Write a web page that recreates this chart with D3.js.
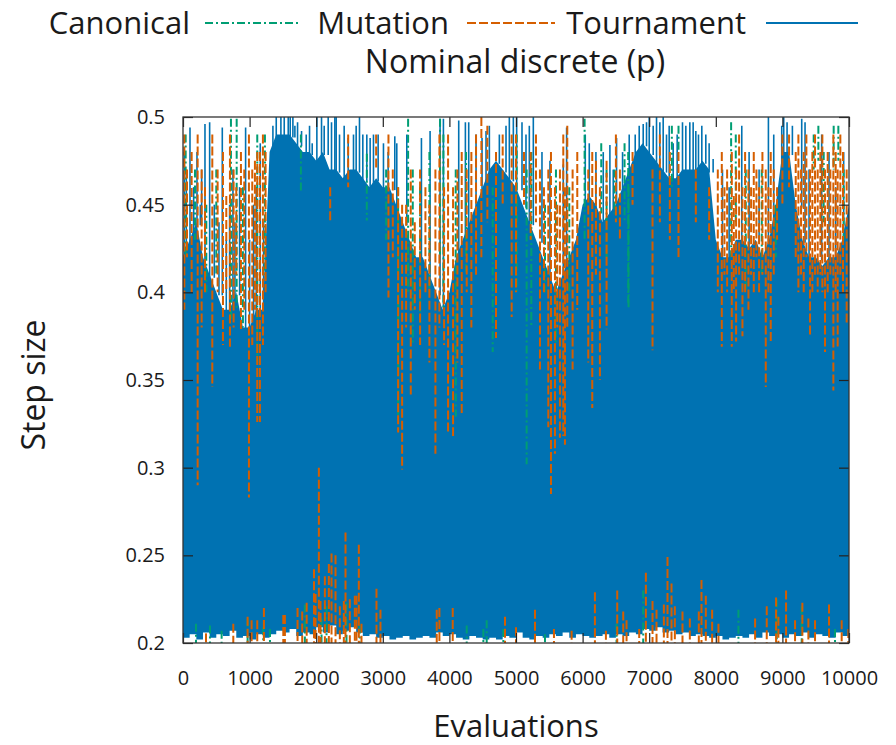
<!DOCTYPE html>
<html>
<head>
<meta charset="utf-8">
<script src="https://cdn.jsdelivr.net/npm/d3@7"></script>
<style>
body { margin: 0; background: #fff; }
text { font-family: "Open Sans", sans-serif; fill: #1a1a1a; }
</style>
</head>
<body>
<div id="chart"></div>
<script>
var width = 896,
    height = 745;

var xTicks = [0, 1000, 2000, 3000, 4000, 5000, 6000, 7000, 8000, 9000, 10000];
var yTicks = [0.2, 0.25, 0.3, 0.35, 0.4, 0.45, 0.5];
var yTickLabels = ['0.2', '0.25', '0.3', '0.35', '0.4', '0.45', '0.5'];

// Tournament: upper edge of the solid band, every 100 evaluations
var tournamentTop = [
    0.42, 0.43, 0.44, 0.42, 0.41, 0.40, 0.39, 0.39, 0.40, 0.38,
    0.38, 0.39, 0.39, 0.48, 0.49, 0.49, 0.49, 0.485, 0.48, 0.48,
    0.475, 0.48, 0.47, 0.47, 0.465, 0.47, 0.47, 0.465, 0.46, 0.465,
    0.46, 0.46, 0.45, 0.44, 0.43, 0.42, 0.42, 0.41, 0.40, 0.39,
    0.40, 0.42, 0.43, 0.44, 0.45, 0.46, 0.47, 0.475, 0.47, 0.465,
    0.46, 0.45, 0.44, 0.43, 0.42, 0.41, 0.40, 0.41, 0.42, 0.43,
    0.45, 0.455, 0.45, 0.44, 0.445, 0.45, 0.46, 0.47, 0.48, 0.485,
    0.48, 0.475, 0.47, 0.465, 0.465, 0.47, 0.47, 0.47, 0.475, 0.47,
    0.43, 0.42, 0.42, 0.43, 0.43, 0.425, 0.43, 0.42, 0.43, 0.45,
    0.48, 0.48, 0.45, 0.43, 0.42, 0.42, 0.415, 0.42, 0.42, 0.43,
    0.45
];
// Tournament: lower edge of the solid band, every 100 evaluations
var tournamentFloor = [
    0.203, 0.205, 0.202, 0.206, 0.203, 0.205, 0.204, 0.207, 0.203, 0.204,
    0.202, 0.205, 0.203, 0.205, 0.207, 0.206, 0.208, 0.204, 0.206, 0.205,
    0.209, 0.206, 0.210, 0.205, 0.207, 0.209, 0.206, 0.204, 0.205, 0.203,
    0.204, 0.202, 0.203, 0.204, 0.202, 0.203, 0.204, 0.203, 0.206, 0.204,
    0.205, 0.203, 0.202, 0.204, 0.203, 0.202, 0.203, 0.202, 0.204, 0.203,
    0.206, 0.203, 0.202, 0.204, 0.203, 0.205, 0.204, 0.206, 0.203, 0.205,
    0.204, 0.203, 0.204, 0.205, 0.203, 0.205, 0.204, 0.206, 0.205, 0.208,
    0.207, 0.209, 0.206, 0.207, 0.205, 0.206, 0.204, 0.205, 0.204, 0.203,
    0.204, 0.202, 0.203, 0.204, 0.203, 0.205, 0.203, 0.206, 0.204, 0.205,
    0.203, 0.205, 0.204, 0.206, 0.203, 0.205, 0.204, 0.203, 0.206, 0.204,
    0.203
];
// Tournament: single peaks above the band [evaluation, peak]
var tournamentPeaks = [
    [20, 0.48], [50, 0.47], [105, 0.494], [160, 0.46], [210, 0.48], [260, 0.45], [280, 0.47],
    [330, 0.496], [400, 0.497], [470, 0.45], [540, 0.44], [590, 0.494], [650, 0.43], [700, 0.45],
    [750, 0.47], [780, 0.44], [850, 0.46], [940, 0.494], [1000, 0.43], [1060, 0.45], [1100, 0.46],
    [1160, 0.485], [1210, 0.44], [1350, 0.495], [1400, 0.5], [1470, 0.5], [1520, 0.5], [1580, 0.5],
    [1610, 0.5], [1650, 0.5], [1680, 0.495], [1720, 0.497], [1780, 0.492], [1850, 0.49], [1900, 0.495],
    [1940, 0.485], [2010, 0.5], [2080, 0.5], [2120, 0.495], [2180, 0.5], [2230, 0.497], [2280, 0.5],
    [2300, 0.5], [2350, 0.49], [2420, 0.495], [2480, 0.488], [2560, 0.49], [2600, 0.495], [2650, 0.5],
    [2700, 0.49], [2760, 0.49], [2810, 0.488], [2860, 0.49], [2930, 0.49], [3010, 0.485], [3080, 0.48],
    [3180, 0.489], [3210, 0.485], [3360, 0.49], [3580, 0.488], [3710, 0.492], [3860, 0.499],
    [3910, 0.499], [4140, 0.498], [4240, 0.497], [4290, 0.497], [4400, 0.49], [4490, 0.488],
    [4550, 0.492], [4600, 0.495], [4660, 0.47], [4750, 0.49], [4850, 0.495], [4900, 0.5],
    [4960, 0.5], [5010, 0.5], [5090, 0.497], [5150, 0.49], [5200, 0.495], [5260, 0.5], [5390, 0.48],
    [5510, 0.475], [5710, 0.473], [5760, 0.494], [6040, 0.49], [6100, 0.485], [6200, 0.48],
    [6310, 0.48], [6410, 0.484], [6460, 0.47], [6510, 0.488], [6600, 0.48], [6700, 0.49],
    [6790, 0.49], [6850, 0.495], [6910, 0.496], [6960, 0.497], [7000, 0.5], [7060, 0.495],
    [7110, 0.5], [7160, 0.497], [7210, 0.5], [7260, 0.49], [7300, 0.495], [7360, 0.485],
    [7420, 0.49], [7500, 0.497], [7550, 0.495], [7610, 0.497], [7660, 0.497], [7700, 0.492],
    [7740, 0.49], [7790, 0.495], [7850, 0.49], [7900, 0.485], [7960, 0.476], [8100, 0.47],
    [8200, 0.46], [8390, 0.495], [8500, 0.48], [8650, 0.47], [8790, 0.5], [8870, 0.49],
    [8990, 0.495], [9020, 0.5], [9070, 0.497], [9150, 0.495], [9290, 0.499], [9340, 0.497],
    [9400, 0.47], [9590, 0.49], [9700, 0.48], [9800, 0.46], [9920, 0.48]
];

// Mutation: strokes in the upper part [evaluation, low, high]
var mutationUpper = [
    [20, 0.39, 0.49], [60, 0.42, 0.47], [130, 0.40, 0.48], [220, 0.29, 0.49], [280, 0.38, 0.47],
    [330, 0.40, 0.46], [440, 0.346, 0.49], [520, 0.40, 0.47], [600, 0.37, 0.48], [650, 0.40, 0.455],
    [705, 0.369, 0.49], [760, 0.38, 0.47], [800, 0.41, 0.46], [870, 0.379, 0.48], [920, 0.39, 0.47],
    [990, 0.283, 0.49], [1040, 0.37, 0.47], [1080, 0.39, 0.475], [1115, 0.326, 0.48], [1155, 0.326, 0.48],
    [1200, 0.37, 0.49], [1240, 0.40, 0.48], [2210, 0.44, 0.46], [2480, 0.46, 0.49], [2900, 0.47, 0.49],
    [3085, 0.397, 0.49], [3150, 0.42, 0.47], [3230, 0.32, 0.46], [3290, 0.299, 0.45], [3350, 0.38, 0.45],
    [3420, 0.341, 0.47], [3480, 0.39, 0.44], [3560, 0.37, 0.47], [3640, 0.40, 0.46], [3700, 0.36, 0.45],
    [3790, 0.308, 0.47], [3850, 0.38, 0.49], [3920, 0.37, 0.46], [3980, 0.32, 0.49], [4055, 0.318, 0.46],
    [4120, 0.36, 0.47], [4185, 0.33, 0.48], [4260, 0.40, 0.47], [4330, 0.38, 0.48], [4400, 0.41, 0.49],
    [4480, 0.42, 0.50], [4570, 0.44, 0.495], [4700, 0.374, 0.48], [4800, 0.45, 0.49], [4935, 0.386, 0.49],
    [5000, 0.40, 0.49], [5120, 0.45, 0.48], [5220, 0.43, 0.48], [5300, 0.44, 0.49], [5360, 0.356, 0.47],
    [5420, 0.40, 0.46], [5485, 0.323, 0.47], [5525, 0.285, 0.48], [5585, 0.308, 0.46], [5620, 0.38, 0.45],
    [5660, 0.317, 0.47], [5710, 0.318, 0.49], [5735, 0.313, 0.46], [5770, 0.38, 0.495], [5850, 0.356, 0.47],
    [5920, 0.39, 0.48], [6085, 0.36, 0.47], [6145, 0.334, 0.48], [6200, 0.41, 0.475], [6260, 0.35, 0.46],
    [6360, 0.379, 0.475], [6500, 0.44, 0.49], [6560, 0.43, 0.47], [6750, 0.45, 0.48], [7050, 0.367, 0.47],
    [7160, 0.44, 0.49], [7310, 0.43, 0.48], [7440, 0.42, 0.48], [7700, 0.44, 0.47], [7900, 0.43, 0.46],
    [8030, 0.40, 0.47], [8090, 0.369, 0.48], [8130, 0.41, 0.46], [8170, 0.40, 0.47], [8240, 0.369, 0.48],
    [8270, 0.40, 0.455], [8305, 0.372, 0.47], [8350, 0.41, 0.49], [8400, 0.375, 0.46], [8440, 0.40, 0.48],
    [8490, 0.39, 0.47], [8530, 0.41, 0.46], [8570, 0.40, 0.48], [8610, 0.42, 0.47], [8650, 0.40, 0.46],
    [8700, 0.41, 0.48], [8750, 0.346, 0.47], [8790, 0.40, 0.46], [8825, 0.372, 0.48], [8870, 0.41, 0.47],
    [8920, 0.43, 0.46], [9000, 0.45, 0.49], [9100, 0.46, 0.49], [9200, 0.42, 0.48], [9240, 0.40, 0.49],
    [9280, 0.41, 0.47], [9320, 0.40, 0.48], [9360, 0.42, 0.49], [9415, 0.376, 0.47], [9450, 0.40, 0.48],
    [9490, 0.41, 0.49], [9530, 0.40, 0.47], [9570, 0.41, 0.48], [9600, 0.40, 0.49], [9640, 0.366, 0.47],
    [9680, 0.40, 0.48], [9720, 0.41, 0.47], [9765, 0.344, 0.49], [9800, 0.40, 0.48], [9830, 0.368, 0.47],
    [9870, 0.41, 0.49], [9910, 0.40, 0.48], [9965, 0.382, 0.47]
];
// Mutation: strokes rising from the bottom [evaluation, high]
var mutationLower = [
    [345, 0.2055], [755, 0.211], [970, 0.215], [1030, 0.213], [1115, 0.213], [1215, 0.22],
    [1506, 0.216], [1530, 0.216], [1720, 0.22], [1790, 0.218], [1857, 0.223], [1967, 0.242],
    [1990, 0.228], [2040, 0.30], [2065, 0.224], [2130, 0.238], [2190, 0.245], [2230, 0.251],
    [2290, 0.25], [2355, 0.221], [2415, 0.224], [2440, 0.263], [2505, 0.225], [2580, 0.227],
    [2605, 0.227], [2640, 0.256], [2680, 0.211], [2905, 0.231], [2965, 0.219], [3810, 0.219],
    [3850, 0.22], [4050, 0.22], [4835, 0.215], [5000, 0.209], [5285, 0.219], [5570, 0.208],
    [5835, 0.207], [6185, 0.229], [6350, 0.207], [6520, 0.230], [6610, 0.218], [6660, 0.213],
    [6850, 0.208], [6950, 0.240], [7050, 0.224], [7110, 0.219], [7220, 0.222], [7275, 0.249],
    [7335, 0.234], [7385, 0.221], [7500, 0.218], [7610, 0.214], [7745, 0.218], [7785, 0.236],
    [7850, 0.227], [7945, 0.219], [8040, 0.211], [8590, 0.214], [8765, 0.221], [8905, 0.226],
    [8940, 0.215], [9055, 0.230], [9190, 0.213], [9300, 0.223], [9390, 0.214], [9490, 0.213],
    [9700, 0.222], [9890, 0.213], [9990, 0.208]
];

// Canonical: strokes in the upper part [evaluation, low, high]
var canonicalUpper = [
    [40, 0.42, 0.49], [180, 0.43, 0.47], [350, 0.40, 0.45], [500, 0.41, 0.47], [720, 0.383, 0.499],
    [806, 0.39, 0.499], [900, 0.38, 0.46], [1115, 0.36, 0.49], [1230, 0.41, 0.49], [1770, 0.458, 0.49],
    [2760, 0.441, 0.479], [3050, 0.43, 0.47], [3230, 0.33, 0.46], [3380, 0.40, 0.499], [3450, 0.37, 0.47],
    [3560, 0.38, 0.46], [3700, 0.40, 0.48], [3860, 0.42, 0.499], [3910, 0.39, 0.49], [4095, 0.329, 0.47],
    [4250, 0.41, 0.48], [4650, 0.366, 0.46], [5010, 0.40, 0.49], [5160, 0.302, 0.47], [5230, 0.38, 0.48],
    [5435, 0.40, 0.45], [5600, 0.37, 0.47], [5800, 0.40, 0.46], [6030, 0.43, 0.499], [6280, 0.445, 0.485],
    [6360, 0.42, 0.47], [6480, 0.445, 0.47], [6630, 0.44, 0.485], [6685, 0.394, 0.48], [6690, 0.39, 0.46],
    [7340, 0.46, 0.495], [7440, 0.48, 0.495], [8230, 0.42, 0.497], [8300, 0.44, 0.49], [8450, 0.40, 0.47],
    [8690, 0.41, 0.47], [8900, 0.42, 0.45], [9470, 0.47, 0.49], [9540, 0.475, 0.495], [9620, 0.44, 0.48],
    [9770, 0.47, 0.495], [9840, 0.475, 0.495], [9920, 0.43, 0.47]
];
// Canonical: strokes rising from the bottom [evaluation, high]
var canonicalLower = [
    [195, 0.211], [405, 0.210], [580, 0.207], [970, 0.214], [1205, 0.209], [1306, 0.208],
    [1830, 0.222], [2080, 0.214], [2155, 0.221], [2455, 0.223], [2655, 0.210], [4260, 0.210],
    [4510, 0.208], [4560, 0.213], [4810, 0.208], [5435, 0.205], [6510, 0.211], [6910, 0.230],
    [8340, 0.219], [8915, 0.225], [9290, 0.221], [9790, 0.208]
];

var colors = { Canonical: '#009e73', Mutation: '#d55e00', Tournament: '#0072b2' };
var dashes = { Canonical: '8,3,2,3', Mutation: '9,3', Tournament: null };

var svg = d3.select('#chart')
    .append('svg')
    .attr('width', width)
    .attr('height', height);

var x = d3.scaleLinear().domain([0, 10000]).range([183, 849]);
var y = d3.scaleLinear().domain([0.2, 0.5]).range([643, 117]);

svg.append('clipPath').attr('id', 'clip')
    .append('rect')
    .attr('x', 183).attr('y', 117)
    .attr('width', 666).attr('height', 526);

var plot = svg.append('g').attr('clip-path', 'url(#clip)');

// tournament band: linear top edge, then ragged white gaps at the floor
var grid = d3.range(0, 10001, 100);

plot.append('path')
    .datum(tournamentTop)
    .attr('fill', colors.Tournament)
    .attr('d', d3.area()
        .x((d, i) => x(grid[i]))
        .y0(y(0.2))
        .y1(d => y(d)));

plot.append('path')
    .datum(tournamentFloor)
    .attr('fill', '#fff')
    .attr('d', d3.area()
        .x((d, i) => x(grid[i]))
        .y0(y(0.2) + 1)
        .y1(d => y(d))
        .curve(d3.curveStepAfter));

var bandTop = d => tournamentTop[Math.min(Math.floor(d[0] / 100), 100)];

plot.selectAll('.peak')
    .data(tournamentPeaks)
    .enter()
    .append('line')
    .attr('class', 'peak')
    .attr('x1', d => x(d[0]))
    .attr('x2', d => x(d[0]))
    .attr('y1', d => y(d[1]))
    .attr('y2', d => y(Math.min(bandTop(d), d[1])) + 3)
    .attr('stroke', colors.Tournament)
    .attr('stroke-width', 1.6);

function strokes(cls, data, name) {
    plot.selectAll('.' + cls)
        .data(data)
        .enter()
        .append('line')
        .attr('class', cls)
        .attr('x1', d => x(d[0]))
        .attr('x2', d => x(d[0]))
        .attr('y1', d => y(d.length == 3 ? d[2] : d[1]))
        .attr('y2', d => y(d.length == 3 ? d[1] : 0.2))
        .attr('stroke', colors[name])
        .attr('stroke-width', 2)
        .attr('stroke-dasharray', dashes[name]);
}

strokes('can-up', canonicalUpper, 'Canonical');
strokes('can-low', canonicalLower, 'Canonical');
strokes('mut-up', mutationUpper, 'Mutation');
strokes('mut-low', mutationLower, 'Mutation');

// axes with inward ticks on all four sides
var yAxis = d3.axisLeft(y).tickValues(yTicks).tickSize(-10).tickPadding(18)
    .tickFormat((d, i) => yTickLabels[i]);
var xAxis = d3.axisBottom(x).tickValues(xTicks).tickSize(-10).tickPadding(28)
    .tickFormat(d3.format('d'));

svg.append('g').attr('transform', 'translate(183,0)').call(yAxis);
svg.append('g').attr('transform', 'translate(0,643)').call(xAxis);
svg.append('g').attr('transform', 'translate(0,117)')
    .call(d3.axisTop(x).tickValues(xTicks).tickSize(-10).tickFormat(''));
svg.append('g').attr('transform', 'translate(849,0)')
    .call(d3.axisRight(y).tickValues(yTicks).tickSize(-10).tickFormat(''));

svg.selectAll('.domain').remove();
svg.selectAll('.tick line').attr('stroke', '#222').attr('stroke-width', 1.2);
svg.selectAll('.tick text')
    .style('font-family', '"Open Sans", sans-serif')
    .style('font-size', '20px')
    .attr('fill', '#1a1a1a');

svg.append('rect')
    .attr('x', 183).attr('y', 117)
    .attr('width', 666).attr('height', 526)
    .attr('fill', 'none')
    .attr('stroke', '#333')
    .attr('stroke-width', 1.3);

// axis titles
svg.append('text')
    .attr('x', 516).attr('y', 737)
    .attr('text-anchor', 'middle')
    .style('font-size', '31px')
    .text('Evaluations');

svg.append('text')
    .attr('transform', 'translate(45,385)rotate(-90)')
    .attr('text-anchor', 'middle')
    .style('font-size', '32px')
    .text('Step size');

// legend and title
var legendItems = [
    { name: 'Canonical', textEnd: 190, x1: 205, x2: 300 },
    { name: 'Mutation', textEnd: 449, x1: 467, x2: 555 },
    { name: 'Tournament', textEnd: 746, x1: 766, x2: 858 }
];

var legend = svg.append('g');
legend.selectAll('text')
    .data(legendItems)
    .enter()
    .append('text')
    .attr('x', d => d.textEnd)
    .attr('y', 34)
    .attr('text-anchor', 'end')
    .style('font-size', '31px')
    .text(d => d.name);

legend.selectAll('line')
    .data(legendItems)
    .enter()
    .append('line')
    .attr('x1', d => d.x1)
    .attr('x2', d => d.x2)
    .attr('y1', 23)
    .attr('y2', 23)
    .attr('stroke', d => colors[d.name])
    .attr('stroke-width', 1.8)
    .attr('stroke-dasharray', d => dashes[d.name]);

svg.append('text')
    .attr('x', 515).attr('y', 73)
    .attr('text-anchor', 'middle')
    .style('font-size', '32px')
    .text('Nominal discrete (p)');
</script>
</body>
</html>
